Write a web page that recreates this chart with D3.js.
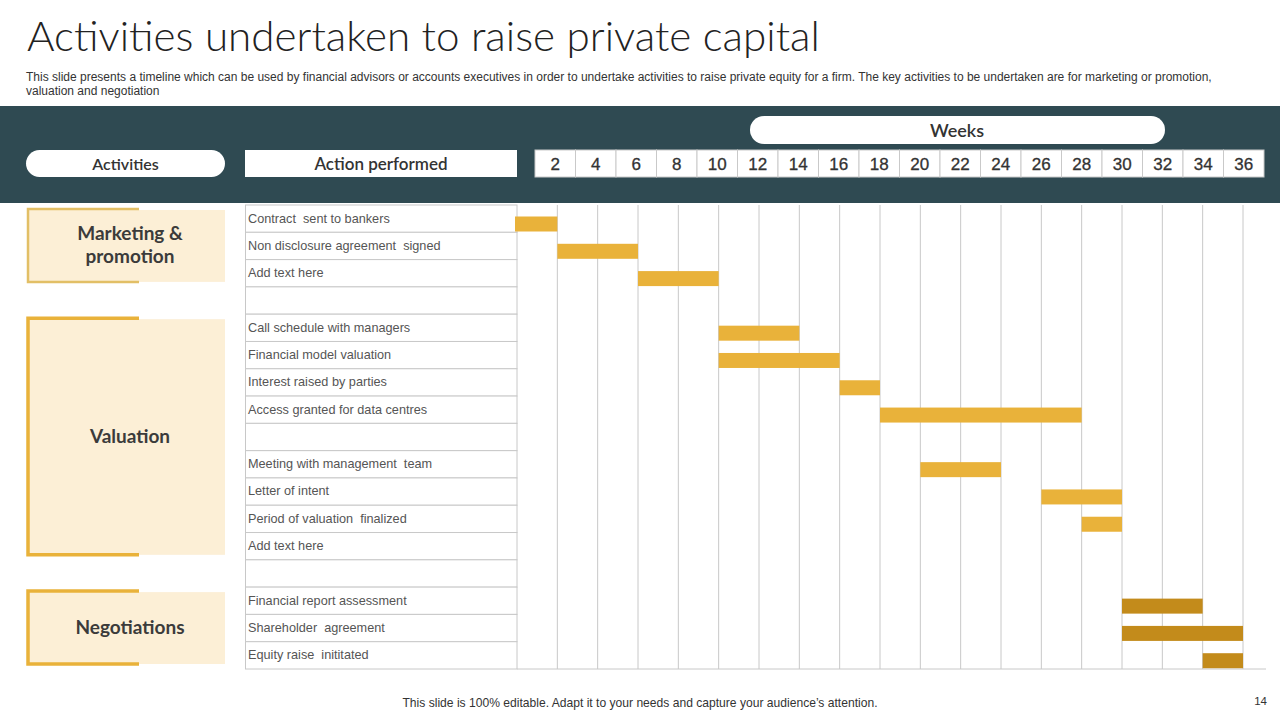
<!DOCTYPE html>
<html>
<head>
<meta charset="utf-8">
<script src="https://cdn.jsdelivr.net/npm/d3@7"></script>
<style>
  *{box-sizing: border-box;}
  body{ margin: 0; padding: 0; background: #fff; }
  svg{ display: block; width: 1280px; height: 720px; }
  .gothic{ font-family: Lato, "Open Sans", sans-serif; }
  .arial{ font-family: "Liberation Sans", Arial, sans-serif; }
</style>
</head>
<body>
<svg id="chart" width="1280" height="720"></svg>

<script>
  // week tick labels on the header
  let weekLabels = ['2','4','6','8','10','12','14','16','18','20','22','24','26','28','30','32','34','36'];

  // one row per action, '' = empty row
  let actions = [
    'Contract  sent to bankers',
    'Non disclosure agreement  signed',
    'Add text here',
    '',
    'Call schedule with managers',
    'Financial model valuation',
    'Interest raised by parties',
    'Access granted for data centres',
    '',
    'Meeting with management  team',
    'Letter of intent',
    'Period of valuation  finalized',
    'Add text here',
    '',
    'Financial report assessment',
    'Shareholder  agreement',
    'Equity raise  inititated'
  ];
  // start / end week of each bar (null = no bar)
  let barStart = [0, 2, 6, null, 10, 10, 16, 18, null, 20, 26, 28, null, null, 30, 30, 34];
  let barEnd   = [2, 6, 10, null, 14, 16, 18, 28, null, 24, 30, 30, null, null, 34, 36, 36];

  // activity groups (first and last row)
  let groupNames = [['Marketing &', 'promotion'], ['Valuation'], ['Negotiations']];
  let groupFirst = [0, 4, 14];
  let groupLast  = [2, 12, 16];

  let svg = d3.select('#chart');
  let gold = '#E9B23A', darkGold = '#C38B1B', cream = '#FCEFD6', slate = '#2F4A52';

  // --- title & subtitle
  let title = svg.append('text')
    .attr('class', 'gothic')
    .attr('x', 27).attr('y', 51)
    .attr('font-size', 38)
    .attr('font-weight', 300)
    .attr('fill', '#222')
    .text('Activities undertaken to raise private capital');
  // fit to the reference width
  let tw = title.node().getComputedTextLength();
  title.attr('font-size', 38 * 793 / tw);

  let sub = [
    'This slide presents a timeline which can be used by financial advisors or accounts executives in order to  undertake activities to raise private equity for a firm. The key activities to  be undertaken are for  marketing or promotion,',
    'valuation and negotiation'
  ];
  let subText = svg.append('text')
    .attr('class', 'arial')
    .attr('font-size', 11.5)
    .attr('fill', '#333');
  subText.selectAll('tspan')
    .data(sub)
    .enter()
    .append('tspan')
      .attr('x', 26)
      .attr('y', (d, i) => 81 + i * 14)
      .text(d => d);
  let sw = subText.select('tspan').node().getComputedTextLength();
  subText.attr('font-size', 11.5 * 1187 / sw);

  // --- dark header band
  svg.append('rect')
    .attr('x', 0).attr('y', 106)
    .attr('width', 1280).attr('height', 97)
    .attr('fill', slate);

  // pills
  svg.append('rect')
    .attr('x', 26).attr('y', 150).attr('width', 199).attr('height', 27)
    .attr('rx', 13.5).attr('fill', '#fff');
  svg.append('text')
    .attr('class', 'gothic')
    .attr('x', 125.5).attr('y', 169.5)
    .attr('text-anchor', 'middle')
    .attr('font-size', 16).attr('font-weight', 600).attr('fill', '#333')
    .text('Activities');

  svg.append('rect')
    .attr('x', 245).attr('y', 150).attr('width', 272).attr('height', 27)
    .attr('fill', '#fff');
  svg.append('text')
    .attr('class', 'gothic')
    .attr('x', 381).attr('y', 169.5)
    .attr('text-anchor', 'middle')
    .attr('font-size', 17).attr('font-weight', 600).attr('fill', '#333')
    .text('Action performed');

  svg.append('rect')
    .attr('x', 750).attr('y', 116).attr('width', 415).attr('height', 28)
    .attr('rx', 14).attr('fill', '#fff');
  svg.append('text')
    .attr('class', 'gothic')
    .attr('x', 957).attr('y', 136.5)
    .attr('text-anchor', 'middle')
    .attr('font-size', 18).attr('font-weight', 600).attr('fill', '#333')
    .text('Weeks');

  // week header cells
  let xHead = d3.scaleBand()
    .domain(weekLabels)
    .range([535, 1264]);

  let cells = svg.append('g')
    .selectAll('g')
    .data(weekLabels)
    .enter()
    .append('g');
  cells.append('rect')
    .attr('x', d => xHead(d))
    .attr('y', 150)
    .attr('width', xHead.bandwidth())
    .attr('height', 27)
    .attr('fill', '#fff')
    .attr('stroke', '#c9c9c9')
    .attr('stroke-width', 1);
  cells.append('text')
    .attr('x', d => xHead(d) + xHead.bandwidth() / 2)
    .attr('y', 170)
    .attr('text-anchor', 'middle')
    .attr('font-family', '"Liberation Sans Narrow", "Liberation Sans", Arial, sans-serif')
    .attr('font-size', 17)
    .attr('fill', '#333')
    .attr('stroke', '#333')
    .attr('stroke-width', 0.3)
    .text(d => d);

  // --- body scales
  let x = d3.scaleLinear()
    .domain([0, 36])
    .range([517, 1243]);

  let y = d3.scaleBand()
    .domain(d3.range(actions.length))
    .range([205, 669]);

  // vertical grid lines
  let gridWeeks = d3.range(2, 37, 2);
  svg.append('g')
    .selectAll('line')
    .data(gridWeeks)
    .enter()
    .append('line')
      .attr('x1', d => x(d)).attr('x2', d => x(d))
      .attr('y1', 205).attr('y2', 669)
      .attr('stroke', '#c8c8c8')
      .attr('stroke-width', 1);

  // bottom line of the chart
  svg.append('line')
    .attr('x1', 517).attr('x2', 1266)
    .attr('y1', 669).attr('y2', 669)
    .attr('stroke', '#c8c8c8');

  // action table
  let rows = svg.append('g')
    .selectAll('g')
    .data(actions)
    .enter()
    .append('g');
  rows.append('rect')
    .attr('x', 245.5)
    .attr('y', (d, i) => y(i))
    .attr('width', 271.5)
    .attr('height', y.bandwidth())
    .attr('fill', '#fff')
    .attr('stroke', '#c8c8c8')
    .attr('stroke-width', 1);
  rows.append('text')
    .attr('class', 'arial')
    .attr('x', 248)
    .attr('y', (d, i) => y(i) + 17.5)
    .attr('font-size', 12.7)
    .attr('fill', '#555')
    .style('white-space', 'pre')
    .text(d => d);

  // gantt bars
  svg.append('g')
    .selectAll('rect')
    .data(d3.range(actions.length).filter(i => barStart[i] !== null))
    .enter()
    .append('rect')
      .attr('x', i => x(barStart[i]) - (barStart[i] === 0 ? 2 : 0))
      .attr('y', i => y(i) + 11.5)
      .attr('width', i => x(barEnd[i]) - x(barStart[i]) + (barStart[i] === 0 ? 2 : 0))
      .attr('height', 15)
      .attr('fill', i => i >= groupFirst[2] ? darkGold : gold);

  // --- activity group boxes
  let groups = svg.append('g')
    .selectAll('g')
    .data(groupNames)
    .enter()
    .append('g');

  let gTop = i => y(groupFirst[i]) + 4;
  let gBot = i => y(groupLast[i]) + y.bandwidth() - 5;

  groups.append('rect')
    .attr('x', 28)
    .attr('y', (d, i) => gTop(i) + 1)
    .attr('width', 197)
    .attr('height', (d, i) => gBot(i) - gTop(i) - 1)
    .attr('fill', cream);

  groups.append('path')
    .attr('d', (d, i) => `M139,${gTop(i)} H28 V${gBot(i)} H139`)
    .attr('fill', 'none')
    .attr('stroke', (d, i) => i === 0 ? '#E2BF66' : gold)
    .attr('stroke-width', (d, i) => i === 0 ? 2.5 : 3.5);

  groups.append('text')
    .attr('class', 'gothic')
    .attr('text-anchor', 'middle')
    .attr('font-size', 19)
    .attr('font-weight', 700)
    .attr('fill', '#3b3b3b')
    .each(function (d, i) {
      let mid = (gTop(i) + gBot(i)) / 2;
      let t = d3.select(this);
      d.forEach((line, k) => {
        t.append('tspan')
          .attr('x', 130)
          .attr('y', mid + 6.5 + (k - (d.length - 1) / 2) * 23)
          .text(line);
      });
    });

  // --- footer
  svg.append('text')
    .attr('class', 'arial')
    .attr('x', 640).attr('y', 707)
    .attr('text-anchor', 'middle')
    .attr('font-size', 12.1)
    .attr('fill', '#333')
    .text('This slide is 100% editable. Adapt it to your needs and capture your audience\u2019s attention.');
  svg.append('text')
    .attr('class', 'arial')
    .attr('x', 1267).attr('y', 705)
    .attr('text-anchor', 'end')
    .attr('font-size', 11.5)
    .attr('fill', '#333')
    .text('14');
</script>
</body>
</html>
